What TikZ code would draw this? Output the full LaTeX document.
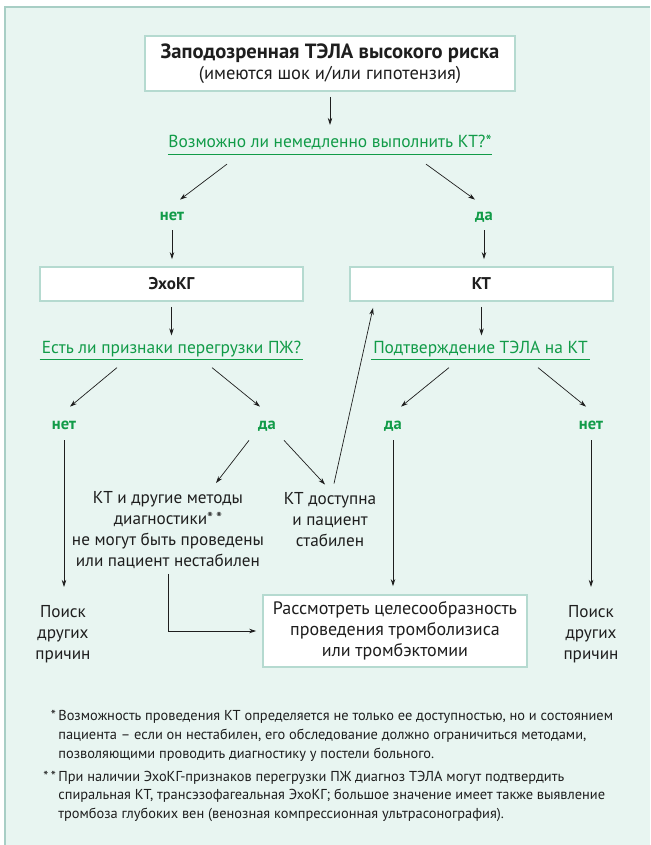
\documentclass[tikz,border=0pt]{standalone}
\usepackage{fontspec}
\setmainfont{PT Sans}
\usetikzlibrary{positioning,arrows.meta}
\definecolor{panelfill}{HTML}{E8F5F1}
\definecolor{panelline}{HTML}{A8CEC5}
\definecolor{boxline}{HTML}{B5DAD0}
\definecolor{qgreen}{HTML}{119B48}
\definecolor{ink}{HTML}{1E1E1E}
\tikzset{box node/.style={draw=boxline, line width=1.8pt, fill=white, inner sep=0pt, align=center, text=ink},
  question node/.style={text=qgreen, inner xsep=0pt, inner ysep=2pt, text height=12.5pt, text depth=4pt, font=\fontsize{17.4}{21}\selectfont},
  answer node/.style={text=qgreen, inner sep=0pt, text height=11pt, text depth=3pt, font=\bfseries\fontsize{16.5}{21}\selectfont},
  text node/.style={inner sep=0pt, align=center, text=ink, font=\fontsize{17.2}{21}\selectfont},
  note node/.style={inner sep=0pt, align=left, text=ink, anchor=north west, font=\fontsize{14.4}{18.7}\selectfont},
  underline/.style={draw=qgreen, line width=1pt, -},}

\begin{document}
\begin{tikzpicture}[x=1pt, y=-1pt, ->, >={Stealth[length=7pt,width=4.5pt]}, line width=0.7pt, color=ink]
        \useasboundingbox (0,0) rectangle (650,845);
        % Panel
        \fill[panelfill] (4,6) rectangle (650,845);
        \draw[panelline, line width=2pt, -] (5,845) -- (5,7) -- (650,7);
        % Nodes
        \node[box node, minimum width=370pt, minimum height=55pt, font=\fontsize{18.5}{21.5}\selectfont] (1) at (330,63.5) {{\bfseries\fontsize{20.6}{21.5}\selectfont Заподозренная ТЭЛА высокого риска}\\(имеются шок и/или гипотензия)};
        \node[question node] [below = 41pt of 1] (2) {Возможно ли немедленно выполнить КТ?*};
        \node[answer node] (3) at (172,216) {нет};
        \node[answer node] (4) at (484,216) {да};
        \node[box node, minimum width=263pt, minimum height=34pt, font=\bfseries\fontsize{17}{21}\selectfont] (5) at (171.5,284) {ЭхоКГ};
        \node[box node, minimum width=263pt, minimum height=34pt, font=\bfseries\fontsize{17}{21}\selectfont] (6) at (481.5,284) {КТ};
        \node[question node, minimum width=263pt] (7) at (171.5,349) {Есть ли признаки перегрузки ПЖ?};
        \node[question node] (8) at (480.5,349) {Подтверждение ТЭЛА на КТ};
        \node[answer node] (9) at (64,425) {нет};
        \node[answer node] (10) at (267,425) {да};
        \node[answer node] (11) at (393,425) {да};
        \node[answer node] (12) at (591,425) {нет};
        \node[text node] (13) at (168,530) {КТ и другие методы\\диагностики*\,*\\не могут быть проведены\\или пациент нестабилен};
        \node[text node] (14) at (330,520) {КТ доступна\\и пациент\\стабилен};
        \node[text node] (15) at (63,634) {Поиск\\других\\причин};
        \node[box node, minimum width=264pt, minimum height=72pt, font=\fontsize{18}{21}\selectfont] (16) at (395,631) {Рассмотреть целесообразность\\проведения тромболизиса\\или тромбэктомии};
        \node[text node] (17) at (591,634) {Поиск\\других\\причин};
        \node[note node] (18) at (58,710) {\llap{*\,}Возможность проведения КТ определяется не только ее доступностью, но и состоянием\\пациента – если он нестабилен, его обследование должно ограничиться методами,\\позволяющими проводить диагностику у постели больного.};
        \node[note node] [below = 9pt of 18.south west, anchor=north west] (19) {\llap{*\,*\,}При наличии ЭхоКГ-признаков перегрузки ПЖ диагноз ТЭЛА могут подтвердить\\спиральная КТ, трансэзофагеальная ЭхоКГ; большое значение имеет также выявление\\тромбоза глубоких вен (венозная компрессионная ультрасонография).};
        % Underlines
        \draw[underline] (2.south west) -- (2.south east);
        \draw[underline] (7.south west) -- (7.south east);
        \draw[underline] ([xshift=-2pt]8.south west) -- ([xshift=2pt]8.south east);
        % Paths
        \path
        (1) edge[shorten <=5pt, shorten >=8pt] (2)
        ([shift={(-103,10)}]2.south) edge ([shift={(8,-9)}]3.north)
        ([shift={(96,10)}]2.south) edge ([shift={(-9,-9)}]4.north)
        (3.south) edge[shorten <=7pt, shorten >=7pt] (3.south |- 5.north)
        (4.south) edge[shorten <=7pt, shorten >=7pt] (4.south |- 6.north)
        (5) edge[shorten <=5pt, shorten >=3pt] (7)
        (6) edge[shorten <=5pt, shorten >=3pt] (6.south |- 8.north)
        ([shift={(-54.5,8)}]7.south) edge ([shift={(6,-11)}]9.north)
        ([shift={(40.5,8)}]7.south) edge ([shift={(-7,-11)}]10.north)
        ([shift={(-31.5,8)}]8.south) edge ([shift={(8,-11)}]11.north)
        ([shift={(57.5,8)}]8.south) edge ([shift={(-5,-11)}]12.north)
        ([shift={(-18,8)}]10.south) edge ([shift={(48,-8)}]13.north)
        ([shift={(17,8)}]10.south) edge ([shift={(-5,-8)}]14.north)
        ([shift={(4,-9)}]14.north) edge ([shift={(-108.5,6)}]6.south)
        (9.south) edge[shorten <=8pt, shorten >=18pt] (9.south |- 15.north)
        (11.south) edge[shorten <=8pt, shorten >=8pt] (11.south |- 16.north)
        (12.south) edge[shorten <=8pt, shorten >=18pt] (12.south |- 17.north);
        \draw[shorten <=5pt, shorten >=6pt] (13.south) |- (16.west);
    \end{tikzpicture}
\end{document}
